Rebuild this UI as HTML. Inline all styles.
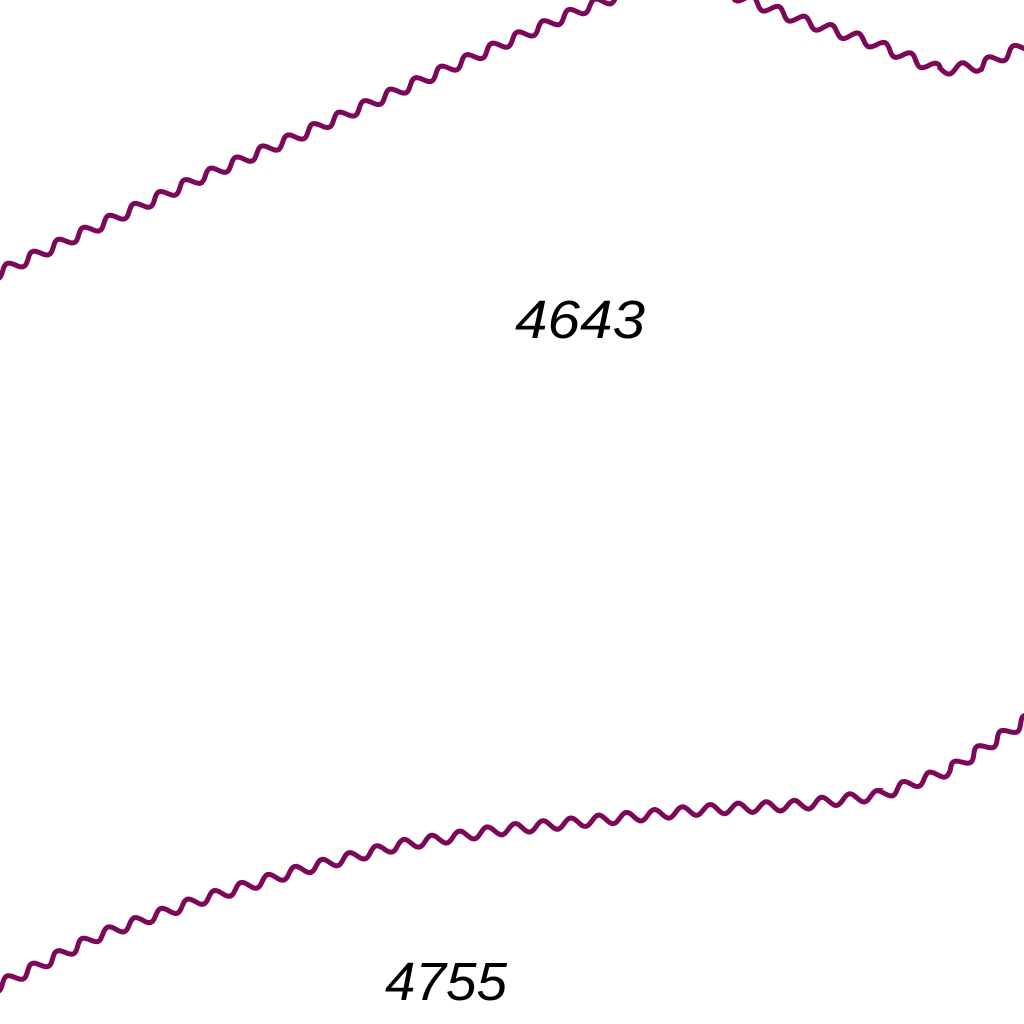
<!DOCTYPE html>
<html><head><meta charset="utf-8"><style>
html,body{margin:0;padding:0;background:#fff;width:1024px;height:1024px;overflow:hidden}
text{font-family:"Liberation Sans",sans-serif;font-style:italic;font-size:54px;fill:#000}
</style></head><body>
<svg id="map" width="1024" height="1024" viewBox="0 0 1024 1024" xmlns="http://www.w3.org/2000/svg">
<text x="515" y="338" textLength="130" lengthAdjust="spacingAndGlyphs">4643</text>
<text x="385" y="1000" textLength="122" lengthAdjust="spacingAndGlyphs">4755</text>
</svg>
<script>
const contourNames = ['contour-upper', 'contour-lower'];
const contourX = [
  [-10, 100, 200, 300, 400, 500, 580, 620, 680, 735, 800, 870, 940, 980, 1034],
  [-10, 100, 200, 300, 400, 500, 600, 700, 800, 880, 950, 1034]
];
const contourY = [
  [277, 225, 178, 135, 90, 45, 10, -5, -30, -5, 20, 42, 70, 66, 42],
  [990, 935, 900, 870, 845, 830, 820, 810, 805, 795, 770, 715]
];
const svg = document.getElementById('map');
const period = 28, amp = 5;
contourX.forEach((xs, k) => {
  const ys = contourY[k];
  let d = '', s = 0;
  for (let i = 0; i < xs.length - 1; i++) {
    const dx = xs[i+1]-xs[i], dy = ys[i+1]-ys[i], L = Math.hypot(dx, dy);
    const nx = -dy/L, ny = dx/L;
    for (let t = 0; t < L; t += 2) {
      const w = amp*Math.sin(2*Math.PI*(s+t)/period);
      const px = xs[i]+dx*t/L + nx*w, py = ys[i]+dy*t/L + ny*w;
      d += (d ? 'L' : 'M') + px.toFixed(1) + ',' + py.toFixed(1);
    }
    s += L;
  }
  const p = document.createElementNS('http://www.w3.org/2000/svg', 'path');
  p.setAttribute('d', d);
  p.setAttribute('fill', 'none');
  p.setAttribute('stroke', '#7b0859');
  p.setAttribute('stroke-width', '5');
  
  
  svg.insertBefore(p, svg.firstChild);
});
</script>
</body></html>
